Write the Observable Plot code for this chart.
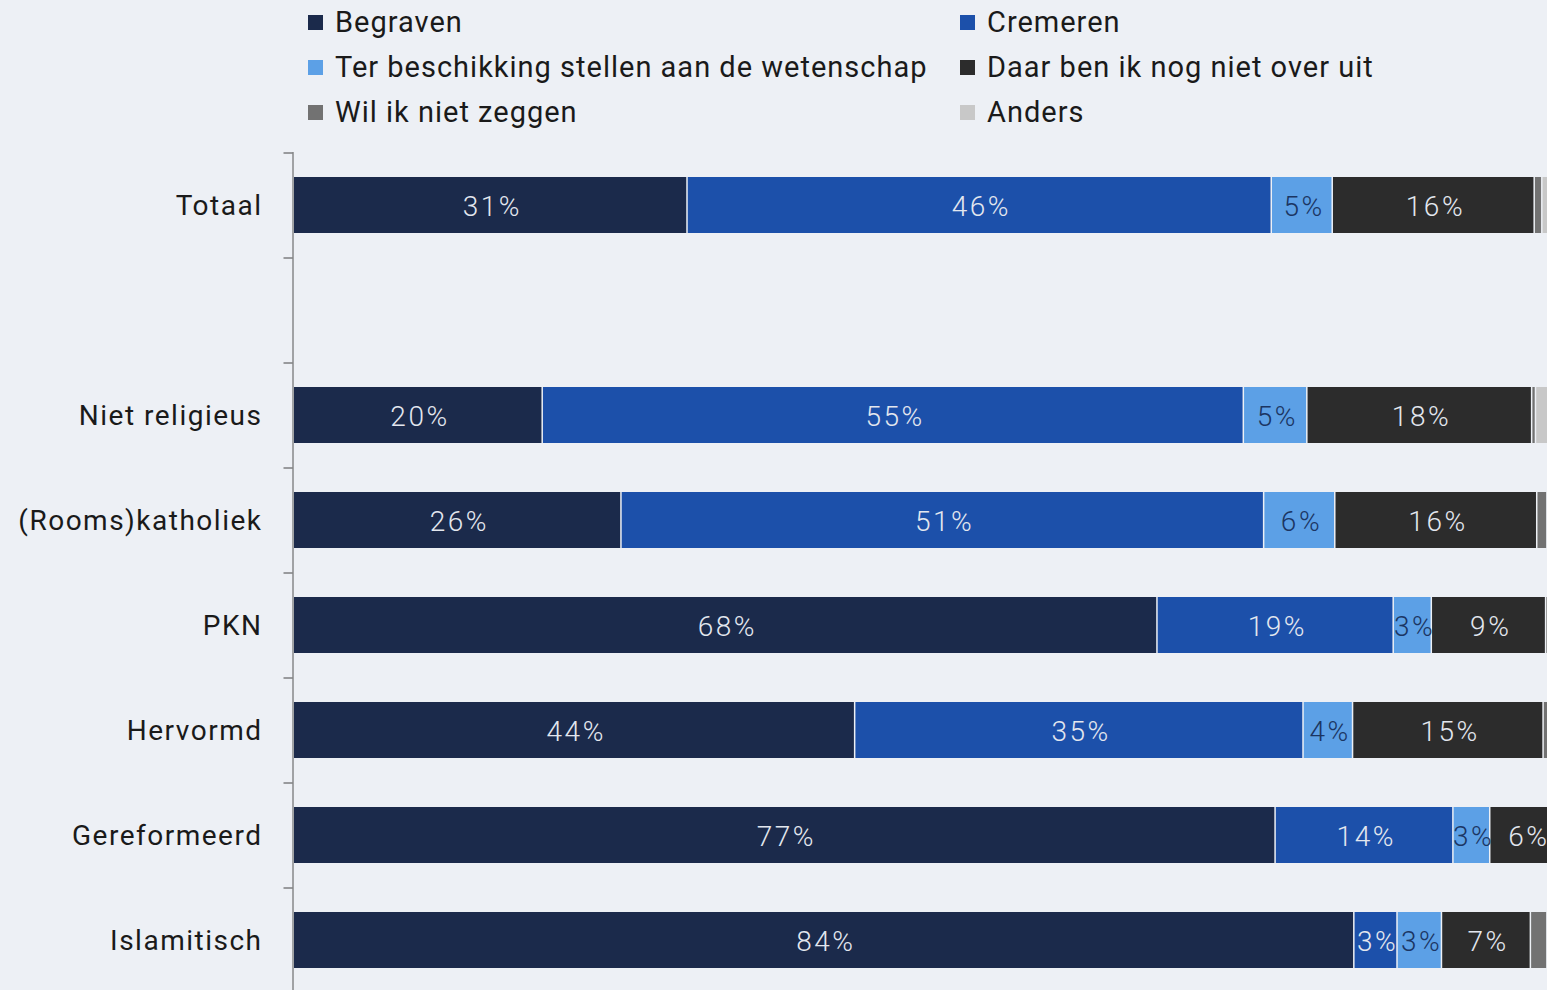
<!DOCTYPE html>
<html>
<head>
<meta charset="utf-8">
<script src="https://cdn.jsdelivr.net/npm/d3@7"></script>
<script src="https://cdn.jsdelivr.net/npm/@observablehq/plot@0.6"></script>
<style>
  html, body { margin: 0; padding: 0; background: #edf0f5; overflow: hidden; width: 1547px; height: 990px; }
  #legend { position: relative; height: 140px; font-family: Roboto, sans-serif; font-size: 29px; color: #1a1a1a; letter-spacing: 1px; }
  .li { position: absolute; display: flex; align-items: center; white-space: nowrap; }
  .sw { width: 15px; height: 15px; margin-right: 12px; }
  #chart svg g[aria-label="text"] text { letter-spacing: 2.5px; font-weight: 300; }
  #chart svg g[aria-label="y-axis tick label"] text { letter-spacing: 1.5px; }
</style>
</head>
<body>
<div id="legend"></div>
<div id="chart"></div>
<script>
const categories = ["Totaal", " ", "Niet religieus", "(Rooms)katholiek", "PKN", "Hervormd", "Gereformeerd", "Islamitisch"];
const rows = ["Totaal", "Niet religieus", "(Rooms)katholiek", "PKN", "Hervormd", "Gereformeerd", "Islamitisch"];
const series = ["Begraven", "Cremeren", "Ter beschikking stellen aan de wetenschap", "Daar ben ik nog niet over uit", "Wil ik niet zeggen", "Anders"];
const colors = ["#1b2a4b", "#1c50aa", "#5ca0e6", "#2c2c2c", "#727272", "#c8c8c8"];
const labelColors = ["#e3e7ef", "#e3e7ef", "#1b3562", "#e3e7ef", "#e3e7ef", "#333333"];

const begraven   = [31.0, 19.6, 25.8, 68.0, 44.2, 77.3, 83.5];
const cremeren   = [46.0, 55.2, 50.6, 18.6, 35.3, 14.0, 3.4];
const wetenschap = [4.8, 5.0, 5.6, 3.0, 3.9, 2.9, 3.5];
const nietUit    = [15.9, 17.7, 15.9, 9.0, 15.0, 5.8, 7.0];
const nietZeggen = [0.6, 0.3, 0.8, 0.6, 0.7, 0.0, 1.3];
const anders     = [1.7, 2.2, 1.3, 0.8, 0.9, 0.0, 1.3];
const valueLabels = [
  ["31%", "46%", "5%", "16%", "", ""],
  ["20%", "55%", "5%", "18%", "", ""],
  ["26%", "51%", "6%", "16%", "", ""],
  ["68%", "19%", "3%", "9%", "", ""],
  ["44%", "35%", "4%", "15%", "", ""],
  ["77%", "14%", "3%", "6%", "", ""],
  ["84%", "3%", "3%", "7%", "", ""]
];

const seriesValues = [begraven, cremeren, wetenschap, nietUit, nietZeggen, anders];
const data = [];
rows.forEach((r, i) => {
  series.forEach((s, j) => {
    data.push({cat: r, series: s, value: seriesValues[j][i], label: valueLabels[i][j], lc: labelColors[j]});
  });
});

// Legend
const legendPos = [
  [308, 22], [960, 22],
  [308, 67], [960, 67],
  [308, 112], [960, 112]
];
const legend = document.getElementById("legend");
series.forEach((s, j) => {
  const d = document.createElement("div");
  d.className = "li";
  d.style.left = legendPos[j][0] + "px";
  d.style.top = (legendPos[j][1] - 18) + "px";
  d.style.height = "36px";
  d.innerHTML = `<span class="sw" style="background:${colors[j]}"></span><span>${s}</span>`;
  legend.appendChild(d);
});

const W = 1547, H = 852, MT = 12, MB = 0;
const step = (H - MT - MB) / categories.length;

const chart = Plot.plot({
  width: W,
  height: H,
  marginLeft: 294,
  marginRight: 0,
  marginTop: MT,
  marginBottom: MB,
  style: {background: "transparent", fontFamily: "Roboto, sans-serif"},
  x: {domain: [0, 98.65], axis: null},
  y: {domain: categories, paddingInner: 0.467, paddingOuter: 0.2335, label: null},
  color: {domain: series, range: colors},
  marks: [
    Plot.barX(data, Plot.stackX({x: "value", y: "cat", z: "series", fill: "series", insetRight: 1.5, clip: true})),
    Plot.text(data, Plot.stackX({x: "value", y: "cat", z: "series", text: "label", fill: "lc", fontSize: 28, dy: 2, dx: 1, clip: true})),
    Plot.ruleX([0], {stroke: "#555", strokeWidth: 1, dx: -1.5}),
    Plot.axisY({tickSize: 9, tickFormat: () => "", dy: -step / 2, dx: -1.5, stroke: "#444", label: null}),
    Plot.axisY({tickSize: 0, tickPadding: 32, fontSize: 28, fill: "#1a1a1a", dy: 1, label: null})
  ]
});
document.getElementById("chart").appendChild(chart);
</script>
</body>
</html>
